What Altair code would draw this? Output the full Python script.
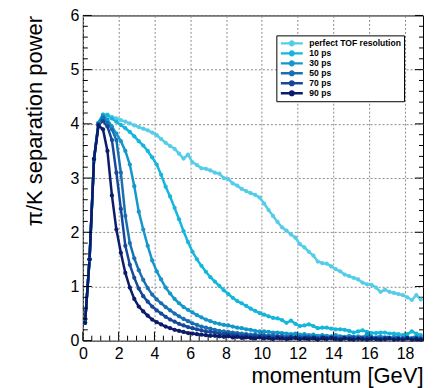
import altair as alt
import pandas as pd

momentum = [0.125, 0.375, 0.625, 0.875, 1.125, 1.375, 1.625, 1.875, 2.125, 2.375,
            2.625, 2.875, 3.125, 3.375, 3.625, 3.875, 4.125, 4.375, 4.625, 4.875,
            5.125, 5.375, 5.625, 5.875, 6.125, 6.375, 6.625, 6.875, 7.125, 7.375,
            7.625, 7.875, 8.125, 8.375, 8.625, 8.875, 9.125, 9.375, 9.625, 9.875,
            10.125, 10.375, 10.625, 10.875, 11.125, 11.375, 11.625, 11.875, 12.125, 12.375,
            12.625, 12.875, 13.125, 13.375, 13.625, 13.875, 14.125, 14.375, 14.625, 14.875,
            15.125, 15.375, 15.625, 15.875, 16.125, 16.375, 16.625, 16.875, 17.125, 17.375,
            17.625, 17.875, 18.125, 18.375, 18.625, 18.875]

series_names = ["perfect TOF resolution", "10 ps", "30 ps", "50 ps", "70 ps", "90 ps"]
series_colors = ["#55CDE8", "#14B6DB", "#1497CA", "#1870B2", "#174799", "#0D1B6B"]

perfect = [0.33, 1.50, 3.35, 4.02, 4.17, 4.17, 4.13, 4.10, 4.07, 4.04,
           4.01, 3.97, 3.94, 3.91, 3.88, 3.84, 3.79, 3.72, 3.65, 3.59,
           3.54, 3.45, 3.36, 3.43, 3.29, 3.24, 3.18, 3.17, 3.14, 3.10,
           3.08, 3.00, 2.98, 2.90, 2.86, 2.80, 2.76, 2.72, 2.69, 2.64,
           2.53, 2.41, 2.30, 2.19, 2.09, 2.03, 1.96, 1.90, 1.78, 1.72,
           1.64, 1.57, 1.46, 1.43, 1.42, 1.37, 1.32, 1.28, 1.22, 1.19,
           1.16, 1.13, 1.07, 1.04, 1.03, 0.98, 0.90, 0.94, 0.90, 0.88,
           0.86, 0.84, 0.80, 0.75, 0.84, 0.76]
ps10 = [0.33, 1.50, 3.35, 4.02, 4.17, 4.16, 4.10, 4.04, 3.98, 3.92,
        3.85, 3.77, 3.68, 3.60, 3.50, 3.38, 3.25, 3.06, 2.84, 2.66,
        2.45, 2.24, 2.02, 1.82, 1.64, 1.50, 1.38, 1.27, 1.17, 1.09,
        1.01, 0.93, 0.86, 0.79, 0.73, 0.69, 0.64, 0.59, 0.55, 0.51,
        0.48, 0.45, 0.42, 0.41, 0.38, 0.33, 0.37, 0.31, 0.27, 0.28,
        0.30, 0.27, 0.23, 0.24, 0.24, 0.22, 0.21, 0.21, 0.20, 0.18,
        0.15, 0.17, 0.19, 0.16, 0.14, 0.14, 0.15, 0.15, 0.13, 0.13,
        0.12, 0.10, 0.12, 0.17, 0.13, 0.10]
ps30 = [0.33, 1.50, 3.35, 4.02, 4.15, 4.08, 3.95, 3.82, 3.68, 3.50,
        3.25, 2.85, 2.38, 2.05, 1.75, 1.48, 1.28, 1.13, 0.98, 0.87,
        0.77, 0.69, 0.62, 0.57, 0.52, 0.47, 0.43, 0.39, 0.36, 0.33,
        0.31, 0.29, 0.28, 0.26, 0.24, 0.23, 0.21, 0.20, 0.18, 0.17,
        0.17, 0.16, 0.15, 0.15, 0.14, 0.13, 0.12, 0.13, 0.11, 0.12,
        0.10, 0.11, 0.09, 0.10, 0.09, 0.08, 0.10, 0.08, 0.07, 0.09,
        0.07, 0.08, 0.06, 0.12, 0.07, 0.06, 0.08, 0.06, 0.05, 0.07,
        0.06, 0.05, 0.06, 0.05, 0.07, 0.06]
ps50 = [0.33, 1.50, 3.35, 4.00, 4.12, 4.02, 3.90, 3.70, 3.10, 2.30,
        1.80, 1.52, 1.30, 1.12, 0.97, 0.85, 0.76, 0.69, 0.62, 0.56,
        0.50, 0.45, 0.40, 0.36, 0.32, 0.29, 0.26, 0.24, 0.22, 0.20,
        0.18, 0.17, 0.16, 0.15, 0.14, 0.13, 0.12, 0.11, 0.11, 0.10,
        0.10, 0.09, 0.10, 0.08, 0.09, 0.07, 0.08, 0.07, 0.06, 0.08,
        0.06, 0.07, 0.05, 0.06, 0.05, 0.07, 0.05, 0.06, 0.04, 0.05,
        0.06, 0.04, 0.05, 0.04, 0.06, 0.04, 0.05, 0.04, 0.05, 0.04,
        0.03, 0.05, 0.04, 0.03, 0.05, 0.04]
ps70 = [0.33, 1.50, 3.35, 3.99, 4.05, 3.95, 3.70, 3.10, 2.43, 1.75,
        1.40, 1.16, 0.96, 0.82, 0.72, 0.63, 0.56, 0.50, 0.44, 0.39,
        0.35, 0.31, 0.28, 0.25, 0.23, 0.21, 0.19, 0.17, 0.16, 0.15,
        0.13, 0.12, 0.12, 0.11, 0.10, 0.09, 0.10, 0.08, 0.09, 0.07,
        0.08, 0.07, 0.06, 0.08, 0.06, 0.05, 0.07, 0.05, 0.06, 0.04,
        0.06, 0.05, 0.04, 0.06, 0.05, 0.04, 0.05, 0.03, 0.05, 0.04,
        0.05, 0.03, 0.04, 0.05, 0.03, 0.04, 0.03, 0.05, 0.04, 0.03,
        0.04, 0.03, 0.05, 0.03, 0.04, 0.03]
ps90 = [0.33, 1.50, 3.35, 3.97, 3.90, 3.50, 2.68, 2.05, 1.62, 1.25,
        0.98, 0.77, 0.63, 0.54, 0.46, 0.39, 0.34, 0.30, 0.26, 0.23,
        0.20, 0.18, 0.16, 0.14, 0.13, 0.12, 0.11, 0.10, 0.09, 0.09,
        0.08, 0.07, 0.08, 0.06, 0.07, 0.05, 0.06, 0.05, 0.04, 0.06,
        0.04, 0.05, 0.03, 0.05, 0.04, 0.03, 0.04, 0.05, 0.03, 0.04,
        0.03, 0.04, 0.02, 0.04, 0.03, 0.05, 0.03, 0.02, 0.04, 0.03,
        0.02, 0.04, 0.03, 0.02, 0.04, 0.03, 0.02, 0.03, 0.04, 0.02,
        0.03, 0.02, 0.04, 0.02, 0.03, 0.02]

x_major = [0, 2, 4, 6, 8, 10, 12, 14, 16, 18]
x_minor = [0.5, 1, 1.5, 2.5, 3, 3.5, 4.5, 5, 5.5, 6.5, 7, 7.5, 8.5, 9, 9.5,
           10.5, 11, 11.5, 12.5, 13, 13.5, 14.5, 15, 15.5, 16.5, 17, 17.5, 18.5]
y_major = [0, 1, 2, 3, 4, 5, 6]
y_minor = [0.2, 0.4, 0.6, 0.8, 1.2, 1.4, 1.6, 1.8, 2.2, 2.4, 2.6, 2.8,
           3.2, 3.4, 3.6, 3.8, 4.2, 4.4, 4.6, 4.8, 5.2, 5.4, 5.6, 5.8]

W, H = 341, 326
FONT = "Liberation Sans"

rows = []
for name, vals in zip(series_names, [perfect, ps10, ps30, ps50, ps70, ps90]):
    for p, v in zip(momentum, vals):
        rows.append({"p": p, "v": v, "series": name})
df = pd.DataFrame(rows)

xscale = alt.Scale(domain=[0, 19], nice=False, zero=False)
yscale = alt.Scale(domain=[0, 6], nice=False)
color_scale = alt.Scale(domain=series_names, range=series_colors)

x_axis = alt.Axis(title="momentum [GeV]", values=x_major, grid=True, format="d",
                  labelPadding=5, labelOverlap=False,
                  titleAlign="right", titleAnchor="end",
                  titleX=W, titleY=42, titleBaseline="alphabetic")
y_axis = alt.Axis(title="π/K separation power", values=y_major, grid=True, format="d",
                  labelPadding=4, labelOverlap=False,
                  titleAngle=270, titleAlign="right",
                  titleBaseline="middle", titleX=-48, titleY=0)

LEG_PATH = "M-1,0L1,0M-0.17,0A0.17,0.17,0,1,1,0.17,0A0.17,0.17,0,1,1,-0.17,0"

base = alt.Chart(df)

lines = base.mark_line(strokeWidth=2.5).encode(
    x=alt.X("p:Q", scale=xscale, axis=x_axis),
    y=alt.Y("v:Q", scale=yscale, axis=y_axis),
    color=alt.Color("series:N", scale=color_scale, sort=series_names,
                    legend=alt.Legend(title=None, orient="none", legendX=194, legendY=20,
                                      symbolType=LEG_PATH, symbolSize=484,
                                      symbolStrokeWidth=2.4, clipHeight=10,
                                      rowPadding=0, padding=3, labelOffset=5,
                                      labelFont=FONT, labelFontSize=8.6,
                                      labelFontWeight="bold", labelColor="black",
                                      fillColor="white", strokeColor="black",
                                      labelLimit=200)),
    order=alt.Order("p:Q"),
)

points = base.mark_circle(size=18, opacity=1).encode(
    x=alt.X("p:Q", scale=xscale, axis=x_axis),
    y=alt.Y("v:Q", scale=yscale, axis=y_axis),
    color=alt.Color("series:N", scale=color_scale, legend=None),
)

def xrule(vals, ln):
    return alt.Chart(pd.DataFrame({"t": vals})).mark_rule(color="black", strokeWidth=1).encode(
        x=alt.X("t:Q", scale=xscale, axis=x_axis), y=alt.value(H), y2=alt.value(H - ln))

def yrule(vals, x0, x1):
    return alt.Chart(pd.DataFrame({"t": vals})).mark_rule(color="black", strokeWidth=1).encode(
        y=alt.Y("t:Q", scale=yscale, axis=y_axis), x=alt.value(x0), x2=alt.value(x1))

xt_major = xrule(x_major, 9)
xt_minor = xrule(x_minor, 5)
yt_major = yrule(y_major, 0, 9)
yt_minor = yrule(y_minor, 0, 5)
yr_major = yrule(y_major, W, W - 8)
yr_minor = yrule(y_minor, W, W - 4)

shadow = alt.Chart(pd.DataFrame({"s": [1]})).mark_rect(color="black").encode(
    x=alt.value(197), x2=alt.value(323), y=alt.value(23), y2=alt.value(84))

chart = alt.layer(
    lines, xt_major, xt_minor, yt_major, yt_minor, yr_major, yr_minor, shadow, points
).properties(
    width=W, height=H,
    autosize=alt.AutoSizeParams(type="none"),
    padding={"left": 75, "top": 7, "right": 2, "bottom": 47},
    background="white",
).configure_view(
    stroke="black", strokeWidth=1
).configure_axis(
    gridDash=[2, 2], gridColor="#8a8a8a", gridWidth=1,
    domain=False, ticks=False, labelOverlap=False, labelFlush=False,
    labelFont=FONT, labelFontSize=16, labelColor="black",
    titleFont=FONT, titleFontSize=22, titleFontWeight="normal", titleColor="black",
)

chart.save("out.html", embed_options={"renderer": "svg", "actions": False})
